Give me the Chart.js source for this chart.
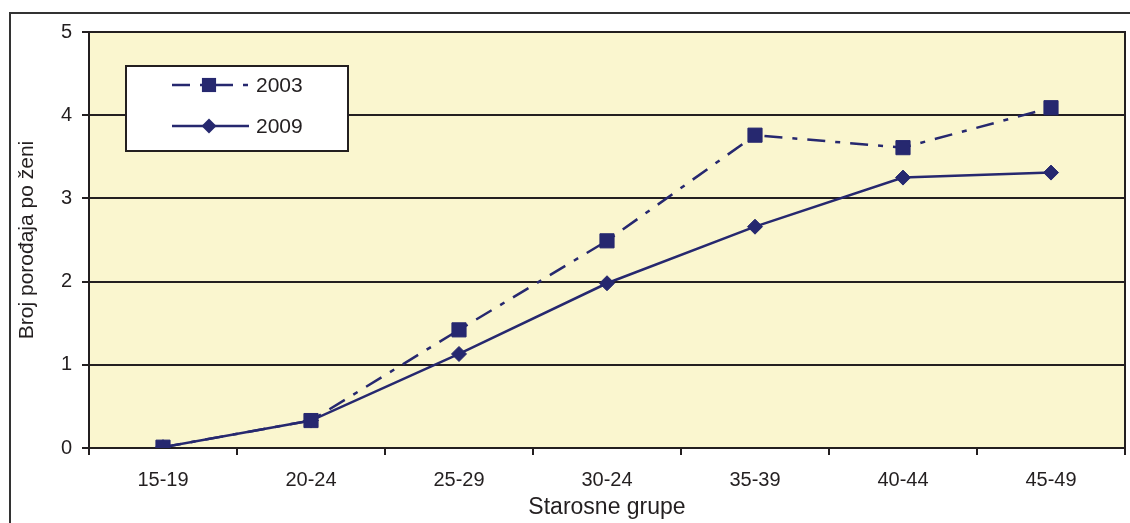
<!DOCTYPE html>
<html>
<head>
<meta charset="utf-8">
<script src="https://cdn.jsdelivr.net/npm/chart.js@4.4.1/dist/chart.umd.min.js"></script>
<style>
  html, body { margin: 0; padding: 0; background: #ffffff; }
  #wrap { width: 1130px; height: 523px; position: relative; }
</style>
</head>
<body>
<div id="wrap"><canvas id="c" width="1130" height="523"></canvas></div>
<script>
// Age groups and births per woman
const ageGroups = ['15-19', '20-24', '25-29', '30-24', '35-39', '40-44', '45-49'];
const births2003 = [0.01, 0.33, 1.42, 2.49, 3.76, 3.61, 4.09];
const births2009 = [0.01, 0.33, 1.13, 1.98, 2.66, 3.25, 3.31];
const seriesLabels = ['2003', '2009'];
const yMin = 0, yMax = 5, yStep = 1;

const NAVY = '#26286f';
const INK = '#231f20';
const PLOT_BG = '#faf6cf';
const DASH_2003 = [18, 10, 5, 10];

// Page frame, plot background, plot border and the boxed legend
const decor = {
  id: 'decor',
  beforeDraw(chart) {
    const { ctx, chartArea: a } = chart;
    ctx.save();
    ctx.fillStyle = '#ffffff';
    ctx.fillRect(0, 0, chart.width, chart.height);
    ctx.strokeStyle = '#333333';
    ctx.lineWidth = 2;
    ctx.beginPath();
    ctx.moveTo(10, chart.height);
    ctx.lineTo(10, 13);
    ctx.lineTo(chart.width, 13);
    ctx.stroke();
    ctx.fillStyle = PLOT_BG;
    ctx.fillRect(a.left, a.top, a.right - a.left, a.bottom - a.top);
    ctx.restore();
  },
  beforeDatasetsDraw(chart) {
    const { ctx, chartArea: a } = chart;
    ctx.save();
    ctx.strokeStyle = INK;
    ctx.lineWidth = 2;
    ctx.beginPath();
    ctx.moveTo(a.left, a.top);
    ctx.lineTo(a.right, a.top);
    ctx.lineTo(a.right, a.bottom);
    ctx.stroke();
    ctx.restore();
  },
  afterDraw(chart) {
    const { ctx } = chart;
    ctx.save();
    ctx.fillStyle = '#ffffff';
    ctx.strokeStyle = INK;
    ctx.lineWidth = 2;
    ctx.fillRect(126, 66, 222, 85);
    ctx.strokeRect(126, 66, 222, 85);
    const rows = [85, 126];
    chart.data.datasets.forEach((ds, i) => {
      const y = rows[i];
      ctx.save();
      ctx.strokeStyle = ds.borderColor;
      ctx.lineWidth = ds.borderWidth;
      ctx.setLineDash(ds.borderDash || []);
      ctx.beginPath();
      ctx.moveTo(172, y);
      ctx.lineTo(249, y);
      ctx.stroke();
      ctx.restore();
      ctx.fillStyle = ds.pointBackgroundColor;
      ctx.strokeStyle = ds.pointBorderColor;
      ctx.lineWidth = ds.pointBorderWidth;
      Chart.helpers.drawPoint(ctx, { pointStyle: ds.pointStyle, radius: ds.pointRadius, rotation: 0 }, 209, y);
      ctx.fillStyle = INK;
      ctx.font = '21px "Liberation Sans", Arial, sans-serif';
      ctx.textBaseline = 'middle';
      ctx.textAlign = 'left';
      ctx.fillText(ds.label, 256, y + 1);
    });
    ctx.restore();
  }
};

new Chart(document.getElementById('c'), {
  type: 'line',
  data: {
    labels: ageGroups,
    datasets: [
      {
        label: seriesLabels[0],
        data: births2003,
        borderColor: NAVY,
        borderWidth: 2.5,
        borderDash: DASH_2003,
        pointStyle: 'rect',
        pointRadius: 10,
        pointBackgroundColor: NAVY,
        pointBorderColor: NAVY,
        pointBorderWidth: 1,
        tension: 0,
        fill: false
      },
      {
        label: seriesLabels[1],
        data: births2009,
        borderColor: NAVY,
        borderWidth: 2.5,
        pointStyle: 'rectRot',
        pointRadius: 7.5,
        pointBackgroundColor: NAVY,
        pointBorderColor: NAVY,
        pointBorderWidth: 1,
        tension: 0,
        fill: false
      }
    ]
  },
  options: {
    responsive: false,
    animation: false,
    events: [],
    layout: { autoPadding: false, padding: { top: 32, right: 5, bottom: 0, left: 0 } },
    plugins: {
      legend: { display: false },
      tooltip: { enabled: false }
    },
    scales: {
      x: {
        type: 'category',
        offset: true,
        grid: {
          display: true,
          drawOnChartArea: false,
          drawTicks: true,
          tickLength: 7,
          offset: true,
          color: INK,
          lineWidth: 2
        },
        border: { display: true, color: INK, width: 2 },
        ticks: {
          color: INK,
          padding: 13,
          maxRotation: 0,
          font: { family: '"Liberation Sans", Arial, sans-serif', size: 20 }
        },
        title: {
          display: true,
          text: 'Starosne grupe',
          color: INK,
          padding: { top: 0, bottom: 2 },
          font: { family: '"Liberation Sans", Arial, sans-serif', size: 23 }
        },
        afterFit(s) {
          s.height = 75;
          s.paddingLeft = 0;
          s.paddingRight = 0;
        }
      },
      y: {
        min: yMin,
        max: yMax,
        ticks: {
          stepSize: yStep,
          color: INK,
          padding: 10,
          font: { family: '"Liberation Sans", Arial, sans-serif', size: 20 }
        },
        grid: {
          color: INK,
          lineWidth: 2,
          tickLength: 7,
          drawTicks: true
        },
        border: { display: true, color: INK, width: 2 },
        title: {
          display: true,
          text: 'Broj porođaja po ženi',
          color: INK,
          padding: { top: 15, bottom: 0 },
          font: { family: '"Liberation Sans", Arial, sans-serif', size: 21 }
        },
        afterFit(s) { s.width = 89; }
      }
    }
  },
  plugins: [decor]
});
</script>
</body>
</html>
